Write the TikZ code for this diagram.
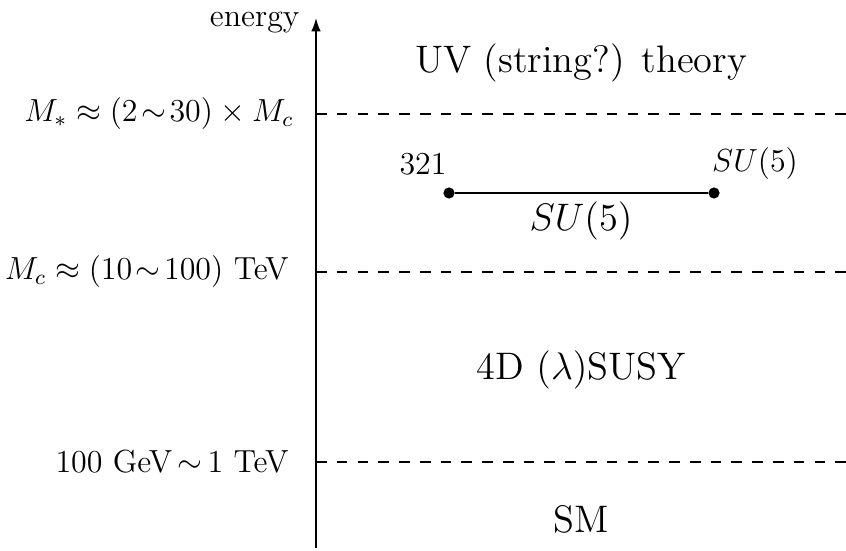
\documentclass[tikz,border=0pt]{standalone}
\usetikzlibrary{arrows.meta}
\begin{document}
\begin{tikzpicture}[x=0.0132cm,y=-0.0132cm,
  lvl/.style={dash pattern=on 4pt off 3.8pt,line width=0.5pt},
  axlab/.style={anchor=east,font=\large,inner sep=0pt},
  region/.style={font=\Large,inner sep=0pt},
  dot/.style={circle,fill,inner sep=0pt,minimum size=4.2pt},
  lbl/.style={font=\large,inner sep=0pt}]
\useasboundingbox (0,0) rectangle (846,550);
\coordinate (axb) at (316,548);
\coordinate (axt) at (316,18);
\draw[-{Latex[length=5pt,width=3.6pt]},line width=0.6pt] (axb) -- (axt);
\node[anchor=base east,inner sep=0pt,font=\large] (en) at (300,27) {energy};
\coordinate (l1a) at (316,114); \coordinate (l1b) at (846,114);
\coordinate (l2a) at (316,272); \coordinate (l2b) at (846,272);
\coordinate (l3a) at (316,462); \coordinate (l3b) at (846,462);
\draw[lvl] (l1a) -- (l1b);
\draw[lvl] (l2a) -- (l2b);
\draw[lvl] (l3a) -- (l3b);
\node[axlab] (m1) at (294,114) {$M_*\approx(2\!\sim\!30)\times M_c$};
\node[axlab] (m2) at (289,272) {$M_c\approx(10\!\sim\!100)$ TeV};
\node[axlab] (m3) at (289,462) {100 GeV$\,\sim\,$1 TeV};
\node[region] (uv) at (581,63) {UV (string?) theory};
\node[region] (susy) at (581,370) {4D $(\lambda)$SUSY};
\node[region] (sm) at (581,519) {SM};
\node[dot] (d1) at (449,193) {};
\node[dot] (d2) at (714,193) {};
\draw[line width=0.6pt] (d1) -- (d2);
\node[lbl] (a1) at (423,164) {321};
\node[lbl] (a2) at (755,164) {$SU(5)$};
\node[region] (a3) at (581,221) {$SU(5)$};
\end{tikzpicture}
\end{document}
